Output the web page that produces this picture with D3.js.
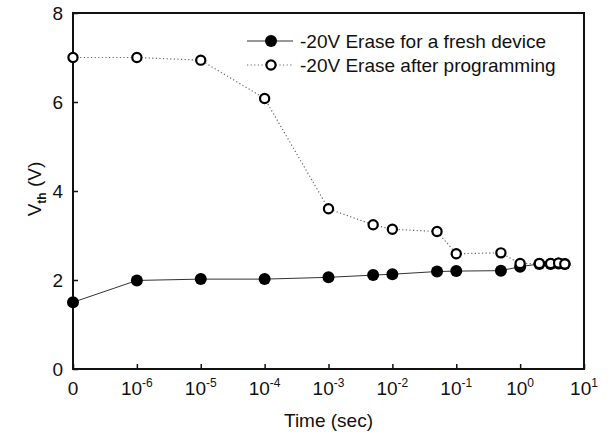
<!DOCTYPE html>
<html>
<head>
<meta charset="utf-8">
<script src="https://cdn.jsdelivr.net/npm/d3@7"></script>
<style>
    body { margin: 0; background: #fff; }
    text { font-family: "Liberation Sans", Arial, sans-serif; fill: #111; }
</style>
</head>
<body>
<div id="chart"></div>
<script>
// time in seconds (0 is drawn where 1e-7 would be)
let times = [0, 1e-6, 1e-5, 1e-4, 1e-3, 5e-3, 1e-2, 5e-2, 1e-1, 5e-1, 1, 2, 3, 4, 5];
let freshVth = [1.5, 1.99, 2.02, 2.02, 2.06, 2.11, 2.13, 2.19, 2.2, 2.21, 2.3, 2.36, 2.36, 2.37, 2.36];
let progVth = [7.0, 7.0, 6.94, 6.08, 3.6, 3.24, 3.14, 3.09, 2.59, 2.61, 2.37, 2.37, 2.37, 2.38, 2.36];
let xTickExps = [null, -6, -5, -4, -3, -2, -1, 0, 1];
let yTicks = [0, 2, 4, 6, 8];
let seriesNames = ["-20V Erase for a fresh device", "-20V Erase after programming"];

let margin = {top: 13, right: 28, bottom: 71, left: 73};
let width = 612 - margin.left - margin.right;
let height = 440 - margin.top - margin.bottom;

let svg = d3.select("#chart").append("svg")
    .attr("width", 612)
    .attr("height", 440)
    .append("g")
    .attr("transform", `translate(${margin.left}, ${margin.top})`);

let zeroAt = 1e-7;
let x = d3.scaleLog().domain([zeroAt, 10]).range([0, width]);
let y = d3.scaleLinear().domain([0, 8]).range([height, 0]);
let xPos = t => x(t === 0 ? zeroAt : t);

// axes, ticks pointing inward
let tickVals = xTickExps.map(e => e === null ? zeroAt : Math.pow(10, e));
let xAxis = d3.axisBottom(x).tickValues(tickVals).tickSizeInner(-5).tickSizeOuter(0).tickFormat("");
let yAxis = d3.axisLeft(y).tickValues(yTicks).tickSizeInner(-5).tickSizeOuter(0).tickFormat("");

svg.append("g").attr("transform", `translate(0, ${height})`).call(xAxis);
svg.append("g").call(yAxis);
svg.selectAll(".domain").remove();
svg.selectAll(".tick line").attr("stroke", "#111").attr("stroke-width", 1.5);

// frame
svg.append("rect")
    .attr("width", width).attr("height", height)
    .attr("fill", "none").attr("stroke", "#111").attr("stroke-width", 2);

// x tick labels
xTickExps.forEach((e, i) => {
    let t = svg.append("text")
        .attr("x", x(tickVals[i]))
        .attr("y", height + 26)
        .attr("text-anchor", "middle")
        .style("font-size", "19px");
    if (e === null) {
        t.text("0");
    } else {
        t.append("tspan").text("10");
        t.append("tspan").attr("dy", -8).style("font-size", "12px").text(e);
    }
});

// y tick labels
yTicks.forEach(v => {
    svg.append("text")
        .attr("x", -10)
        .attr("y", y(v) + 7)
        .attr("text-anchor", "end")
        .style("font-size", "19px")
        .text(v);
});

// axis titles
svg.append("text")
    .attr("x", x(1e-3))
    .attr("y", height + 58)
    .attr("text-anchor", "middle")
    .style("font-size", "19px")
    .text("Time (sec)");

let yl = svg.append("text")
    .attr("transform", `translate(-32, ${height / 2 - 2}) rotate(-90)`)
    .attr("text-anchor", "middle")
    .style("font-size", "19px");
yl.append("tspan").text("V");
yl.append("tspan").attr("dy", 5).style("font-size", "12px").style("font-weight", "bold").text("th");
yl.append("tspan").attr("dy", -5).text(" (V)");

// lines
let line = d3.line().x(d => xPos(d[0])).y(d => y(d[1]));
let freshData = times.map((t, i) => [t, freshVth[i]]);
let progData = times.map((t, i) => [t, progVth[i]]);

svg.append("path").datum(freshData)
    .attr("d", line).attr("fill", "none")
    .attr("stroke", "#333").attr("stroke-width", 1);

svg.append("path").datum(progData)
    .attr("d", line).attr("fill", "none")
    .attr("stroke", "#666").attr("stroke-width", 1.2)
    .attr("stroke-dasharray", "1.2,2.4");

// markers
svg.selectAll(".fresh").data(freshData).enter()
    .append("circle").attr("class", "fresh")
    .attr("cx", d => xPos(d[0])).attr("cy", d => y(d[1]))
    .attr("r", 6).attr("fill", "#000");

svg.selectAll(".prog").data(progData).enter()
    .append("circle").attr("class", "prog")
    .attr("cx", d => xPos(d[0])).attr("cy", d => y(d[1]))
    .attr("r", 4.6).attr("fill", "#fff")
    .attr("stroke", "#000").attr("stroke-width", 2.2);

// legend
let lg = svg.append("g").attr("transform", `translate(${247 - margin.left}, ${41 - margin.top})`);
seriesNames.forEach((name, i) => {
    let row = lg.append("g").attr("transform", `translate(0, ${i * 24})`);
    row.append("line")
        .attr("x1", 0).attr("x2", 46)
        .attr("stroke", i === 0 ? "#333" : "#666")
        .attr("stroke-width", i === 0 ? 1 : 1.2)
        .attr("stroke-dasharray", i === 0 ? null : "1.2,2.4");
    if (i === 0) {
        row.append("circle").attr("cx", 24).attr("r", 6).attr("fill", "#000");
    } else {
        row.append("circle").attr("cx", 24).attr("r", 4.6)
            .attr("fill", "#fff").attr("stroke", "#000").attr("stroke-width", 2.2);
    }
    row.append("text")
        .attr("x", 53).attr("y", 7)
        .style("font-size", "19px")
        .text(name);
});
</script>
</body>
</html>
